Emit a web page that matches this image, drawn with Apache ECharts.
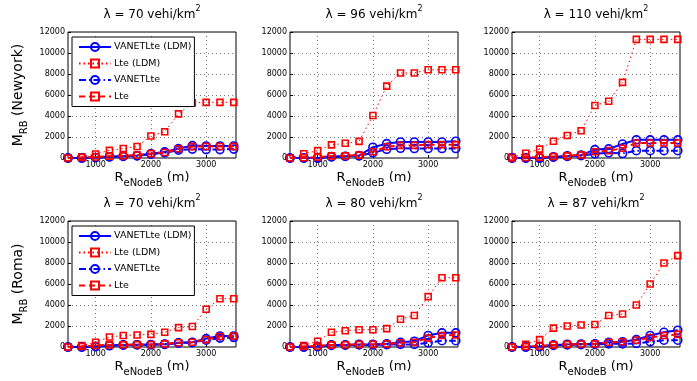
<!DOCTYPE html>
<html><head><meta charset="utf-8">
<script src="https://cdn.jsdelivr.net/npm/echarts@6/dist/echarts.min.js"></script>
<style>html,body{margin:0;padding:0;background:#fff}#c{width:697px;height:381px}</style>
</head><body><div id="c"></div>
<script>
// ---- data ----
const xValues = [500,750,1000,1250,1500,1750,2000,2250,2500,2750,3000,3250,3500];
const xTickValues = [1000,2000,3000];
const seriesNames = ['VANETLte (LDM)','Lte (LDM)','VANETLte','Lte'];
const panelTitles = ['λ = 70 vehi/km','λ = 96 vehi/km','λ = 110 vehi/km','λ = 70 vehi/km','λ = 80 vehi/km','λ = 87 vehi/km'];
const rowCities = ['Newyork','Roma'];

const ny70VanetLdm = [0,0,50,120,170,230,400,580,900,1180,1150,1150,1150];
const ny70LteLdm   = [0,120,380,730,900,1100,2100,2500,4200,5250,5300,5300,5300];
const ny70Vanet    = [0,0,40,100,150,200,380,500,750,850,800,800,850];
const ny70Lte      = [0,50,100,180,220,280,420,520,880,1080,1100,1100,1100];

const ny96VanetLdm = [0,0,0,130,170,230,1030,1370,1530,1530,1530,1530,1600];
const ny96LteLdm   = [0,400,700,1250,1400,1580,4050,6850,8100,8100,8400,8400,8400];
const ny96Vanet    = [0,0,0,100,150,200,500,830,930,900,900,900,900];
const ny96Lte      = [0,30,80,200,220,270,600,1070,1200,1200,1270,1270,1270];

const ny110VanetLdm = [0,0,0,100,200,270,800,870,1330,1730,1730,1730,1730];
const ny110LteLdm   = [100,450,850,1600,2150,2600,5000,5400,7200,11300,11300,11300,11300];
const ny110Vanet    = [0,0,0,80,150,220,400,500,430,700,700,700,700];
const ny110Lte      = [0,50,80,150,200,300,600,700,930,1430,1430,1430,1430];

const roma70VanetLdm = [0,0,50,150,200,220,230,270,400,450,800,1050,1050];
const roma70LteLdm   = [0,150,450,950,1100,1150,1200,1400,1850,1950,3600,4600,4600];
const roma70Vanet    = [0,0,40,120,180,200,220,250,380,420,650,850,900];
const roma70Lte      = [0,50,150,200,220,230,230,300,400,450,700,1000,1050];

const roma80VanetLdm = [0,0,50,200,200,250,250,300,450,550,1100,1350,1350];
const roma80LteLdm   = [0,150,550,1400,1550,1650,1650,1750,2650,3000,4800,6600,6600];
const roma80Vanet    = [0,0,30,150,180,200,200,230,250,250,400,600,600];
const roma80Lte      = [0,50,100,200,220,250,250,300,400,450,850,1100,1150];

const roma87VanetLdm = [0,0,50,200,250,280,300,450,500,700,1100,1400,1600];
const roma87LteLdm   = [0,250,700,1800,2000,2100,2150,3000,3150,4000,6000,8000,8700];
const roma87Vanet    = [0,0,30,150,200,220,250,300,300,350,500,650,650];
const roma87Lte      = [0,50,100,200,250,280,300,450,500,650,900,1100,1200];

const panelData = [
  [ny70VanetLdm, ny70LteLdm, ny70Vanet, ny70Lte],
  [ny96VanetLdm, ny96LteLdm, ny96Vanet, ny96Lte],
  [ny110VanetLdm, ny110LteLdm, ny110Vanet, ny110Lte],
  [roma70VanetLdm, roma70LteLdm, roma70Vanet, roma70Lte],
  [roma80VanetLdm, roma80LteLdm, roma80Vanet, roma80Lte],
  [roma87VanetLdm, roma87LteLdm, roma87Vanet, roma87Lte]
];

// ---- layout / style ----
const FONT = 'DejaVu Sans';
const lefts = [68, 290, 512];
const tops = [32, 221];
const W = 168, H = 126;
const BLUE = '#0000ff', RED = '#ff0000';

const styles = [
  {symbol:'circle', size:8, color:BLUE, line:{width:2, type:'solid'}},
  {symbol:'rect', size:6, color:RED, line:{width:1, type:[1.5,3]}},
  {symbol:'circle', size:8, color:BLUE, line:{width:2, type:[7,3,1.5,3]}},
  {symbol:'rect', size:6, color:RED, line:{width:2, type:[6,4]}}
];
const plain = v => String(v);

const grids = [], xAxes = [], yAxes = [], titles = [], series = [], legends = [];
for (let p = 0; p < 6; p++) {
  const r = Math.floor(p / 3), c = p % 3;
  grids.push({left: lefts[c], top: tops[r], width: W, height: H, show: true,
    borderColor: '#000', borderWidth: 1, backgroundColor: '#fff', containLabel: false});
  xAxes.push({type:'value', gridIndex:p, min:500, max:3540,
    name:'{r|R}{s|eNodeB}{r| (m)}', nameLocation:'middle', nameGap:13,
    nameTextStyle:{rich:{
      r:{fontFamily:FONT, fontSize:13, color:'#000', lineHeight:17, verticalAlign:'top'},
      s:{fontFamily:FONT, fontSize:10, color:'#000', lineHeight:17, verticalAlign:'bottom'}}},
    axisLine:{show:false},
    axisTick:{show:true, inside:true, length:3, customValues:xTickValues, lineStyle:{color:'#000'}},
    axisLabel:{customValues:xTickValues, formatter:plain, fontFamily:FONT, fontSize:8, color:'#000', margin:3},
    splitLine:{show:true, lineStyle:{color:'#777', type:[1,3], width:1}}
  });
  const y = {type:'value', gridIndex:p, min:0, max:12000, interval:2000,
    axisLine:{show:false},
    axisTick:{show:true, inside:true, length:3, lineStyle:{color:'#000'}},
    axisLabel:{formatter:plain, fontFamily:FONT, fontSize:8, color:'#000', margin:3},
    splitLine:{show:true, lineStyle:{color:'#777', type:[1,3], width:1}}
  };
  if (c === 0) {
    y.name = '{m|M}{s|RB}{m| (' + rowCities[r] + ')}';
    y.nameLocation = 'middle';
    y.nameGap = 39;
    y.nameTextStyle = {rich:{
      m:{fontFamily:FONT, fontSize:14, color:'#000', lineHeight:18, verticalAlign:'top'},
      s:{fontFamily:FONT, fontSize:10, color:'#000', lineHeight:18, verticalAlign:'bottom'}}};
  }
  yAxes.push(y);
  titles.push({text:'{a|' + panelTitles[p] + '}{s|2}', left: lefts[c] + W/2, top: tops[r] - 27,
    textAlign:'center', padding:0,
    textStyle:{fontWeight:'normal', rich:{
      a:{fontFamily:FONT, fontSize:12, fontWeight:'normal', color:'#000', lineHeight:16, verticalAlign:'bottom'},
      s:{fontFamily:FONT, fontSize:8, fontWeight:'normal', color:'#000', lineHeight:16, verticalAlign:'top'}}}});
  for (let k = 0; k < 4; k++) {
    const st = styles[k];
    series.push({type:'line', name: seriesNames[k], xAxisIndex:p, yAxisIndex:p,
      data: xValues.map((x, i) => [x, panelData[p][k][i]]),
      symbol: st.symbol, symbolSize: st.size, showSymbol:true, showAllSymbol:true,
      clip:false,
      lineStyle:{color: st.color, width: st.line.width, type: st.line.type},
      itemStyle:{color:'rgba(255,255,255,0)', borderColor: st.color, borderWidth:1.6},
      emphasis:{disabled:true}, z: 2 + k
    });
  }
}
for (let r = 0; r < 2; r++) {
  legends.push({orient:'vertical', left: 72, top: tops[r] + 5, data: seriesNames,
    backgroundColor:'#fff', borderColor:'#000', borderWidth:1, padding:[5,3,5,6],
    itemWidth:32, itemHeight:10, itemGap:6.5, selectedMode:false,
    textStyle:{fontFamily:FONT, fontSize:9.5, color:'#000', padding:[0,0,0,-2]}});
}

const chart = echarts.init(document.getElementById('c'), null, {renderer:'canvas'});
chart.setOption({animation:false, backgroundColor:'#fff', title: titles, legend: legends,
  grid: grids, xAxis: xAxes, yAxis: yAxes, series: series});
</script></body></html>
